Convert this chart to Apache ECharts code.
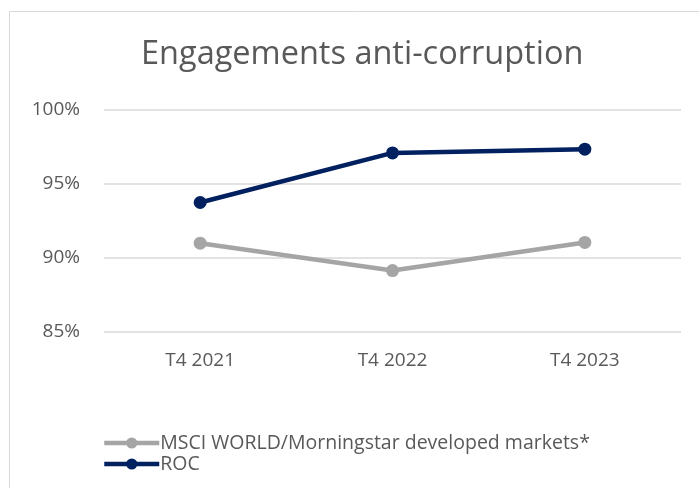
<!DOCTYPE html>
<html>
<head>
<meta charset="utf-8">
<style>
  html, body { margin: 0; padding: 0; background: #fff; }
  #main { width: 699px; height: 488px; }
</style>
<script src="https://cdn.jsdelivr.net/npm/echarts@6/dist/echarts.min.js"></script>
</head>
<body>
<div id="main"></div>
<script>
// data
var categories = ['T4 2021', 'T4 2022', 'T4 2023'];
var msciValues = [91.0, 89.15, 91.05];
var rocValues = [93.75, 97.1, 97.35];
var seriesNames = ['MSCI WORLD/Morningstar developed markets*', 'ROC'];

var FONT = 'Open Sans';

var chart = echarts.init(document.getElementById('main'));

var option = {
    backgroundColor: '#fff',
    textStyle: { fontFamily: FONT },
    title: {
        text: 'Engagements anti-corruption',
        left: 136,
        top: 33,
        textStyle: { fontFamily: FONT, fontSize: 32.5, fontWeight: 'normal', color: '#595959' }
    },
    graphic: [{
        type: 'rect',
        shape: { x: 9.5, y: 11.5, width: 720, height: 500 },
        style: { fill: 'none', stroke: '#D9D9D9', lineWidth: 1 },
        silent: true
    }],
    legend: {
        data: seriesNames,
        orient: 'vertical',
        left: 102,
        top: 433,
        padding: 0,
        itemWidth: 55,
        itemHeight: 14,
        itemGap: 1,
        lineStyle: { width: 4.5 },
        textStyle: { fontFamily: FONT, fontSize: 19.5, color: '#595959', padding: [0, 0, 0, -4] }
    },
    grid: { left: 104, right: 18, top: 110, bottom: 156, containLabel: false },
    xAxis: {
        type: 'category',
        data: categories,
        boundaryGap: true,
        axisLine: { show: false },
        axisTick: { show: false },
        axisLabel: { fontFamily: FONT, fontSize: 19, color: '#595959', margin: 19 }
    },
    yAxis: {
        type: 'value',
        min: 85,
        max: 100,
        interval: 5,
        axisLine: { show: false },
        axisTick: { show: false },
        splitLine: { lineStyle: { color: '#D9D9D9', width: 1.5 } },
        axisLabel: {
            fontFamily: FONT, fontSize: 19, color: '#595959', margin: 24,
            formatter: function (v) { return v + '%'; }
        }
    },
    series: [{
        name: seriesNames[0],
        type: 'line',
        data: msciValues,
        symbol: 'circle',
        symbolSize: 13,
        color: '#A5A5A5',
        lineStyle: { width: 4.5, color: '#A5A5A5' },
        itemStyle: { color: '#A5A5A5' }
    }, {
        name: seriesNames[1],
        type: 'line',
        data: rocValues,
        symbol: 'circle',
        symbolSize: 13,
        color: '#002060',
        lineStyle: { width: 4.5, color: '#002060' },
        itemStyle: { color: '#002060' }
    }]
};

chart.setOption(option);
</script>
</body>
</html>
